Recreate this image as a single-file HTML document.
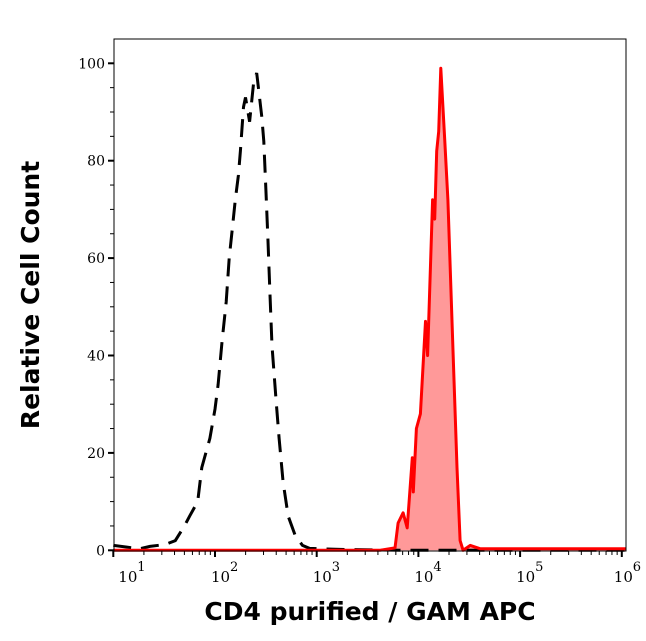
<!DOCTYPE html>
<html><head><meta charset="utf-8"><style>
html,body{margin:0;padding:0;background:#fff;}
svg{display:block;}
</style></head><body>
<svg id="chart" width="646" height="641" viewBox="0 0 646 641" xmlns="http://www.w3.org/2000/svg">
<g id="plot"></g>
<text x="370" y="620" text-anchor="middle" font-family="DejaVu Sans, Liberation Sans, sans-serif" font-weight="bold" font-size="25">CD4 purified / GAM APC</text>
<text transform="translate(39,295) rotate(-90)" text-anchor="middle" font-family="DejaVu Sans, Liberation Sans, sans-serif" font-weight="bold" font-size="25">Relative Cell Count</text>
</svg>
<script>
const xDecades = [1,2,3,4,5,6];
const yTicks = [0,20,40,60,80,100];
const controlLogX = [1.00,1.26,1.36,1.51,1.61,1.70,1.75,1.83,1.87,1.95,2.00,2.03,2.07,2.11,2.14,2.17,2.20,2.23,2.25,2.28,2.30,2.34,2.38,2.41,2.46,2.48,2.50,2.52,2.54,2.56,2.60,2.63,2.67,2.72,2.79,2.86,2.93,3.18,3.82,6.04];
const controlY = [1,0.3,0.8,1.2,2,5,7,10,17,23,29,34,43,51,60,66,72,77,82,91,93,88,96,98,89,84,74,64,53,42,31,23,14,7,3,1,0.4,0.2,0,0];
const sampleLogX = [1.00,3.62,3.77,3.80,3.85,3.89,3.94,3.95,3.98,4.02,4.07,4.09,4.14,4.16,4.18,4.20,4.22,4.26,4.29,4.34,4.38,4.41,4.44,4.51,4.61,6.04];
const sampleY = [0,0,0.5,5.6,7.7,4.6,19,12,25,28,47,40,72,68,82,86,99,84,72,41,17,2,0,1,0.3,0.3];

const NS='http://www.w3.org/2000/svg';
const L=114,R=626,T=39,B=551;
const xPos=v=>215+(v-2)*101.7;
const yPos=v=>550.3-v*4.87;
const g=document.getElementById('plot');
function mk(tag,attrs){const e=document.createElementNS(NS,tag);for(const k in attrs)e.setAttribute(k,attrs[k]);g.appendChild(e);return e;}

let pts=sampleLogX.map((v,i)=>xPos(v).toFixed(1)+','+yPos(sampleY[i]).toFixed(1));
const fill=mk('polygon',{points:xPos(sampleLogX[0])+','+yPos(0)+' '+pts.join(' ')+' '+xPos(sampleLogX[sampleLogX.length-1])+','+yPos(0),fill:'#ff9999',stroke:'none'});


const ctl=mk('polyline',{points:controlLogX.map((v,i)=>xPos(v).toFixed(1)+','+yPos(controlY[i]).toFixed(1)).join(' '),fill:'none',stroke:'#000','stroke-width':3,'stroke-dasharray':'18 10'});


const smp=mk('polyline',{points:pts.join(' '),fill:'none',stroke:'#ff0000','stroke-width':3,'stroke-linejoin':'round'});



const fr=mk('rect',{x:L,y:T,width:R-L,height:B-T,fill:'none',stroke:'#000','stroke-width':1});



for(let v=0;v<=100;v+=5){
  const major=v%20===0;
  const t=mk('line',{x1:major?L-6:L-4,x2:L,y1:yPos(v),y2:yPos(v),stroke:'#000','stroke-width':major?2:1});
  
  
}
yTicks.forEach(v=>{
  const t=mk('text',{x:L-9,y:yPos(v)+5,'text-anchor':'end','font-family':'DejaVu Serif, Liberation Serif, serif','font-size':14});
  t.textContent=v;
  
  
});
xDecades.forEach(d=>{
  const x=xPos(d);
  if(x>=L-1&&x<=R+1){
    const t=mk('line',{x1:x,x2:x,y1:B,y2:B+6,stroke:'#000','stroke-width':2});
    
    
  }
  if(d<6){for(let m=2;m<=9;m++){const xm=xPos(d+Math.log10(m));if(xm<=R){const t=mk('line',{x1:xm,x2:xm,y1:B,y2:B+4,stroke:'#000','stroke-width':1});}}}
  const lx=(d===1?x+5:(d===6?x-8:x-4));
  const t=mk('text',{x:lx,y:B+31,'font-family':'DejaVu Serif, Liberation Serif, serif','font-size':15});
  t.textContent='10';
  
  
  const s=mk('text',{x:lx+19,y:B+20,'font-family':'DejaVu Serif, Liberation Serif, serif','font-size':13});
  s.textContent=d;
  
  
});
</script>
</body></html>
